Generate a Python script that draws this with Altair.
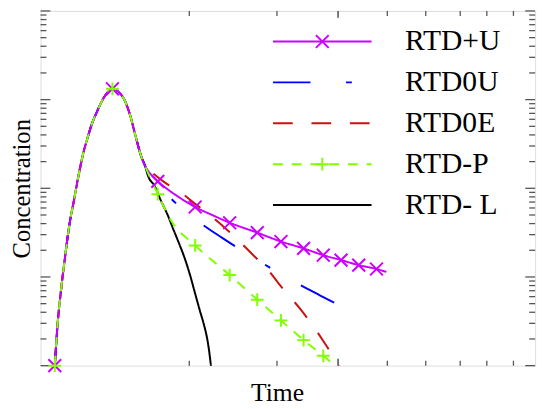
import altair as alt
import pandas as pd

# ---- series definitions ----
series_names = ["RTD+U", "RTD0U", "RTD0E", "RTD-P", "RTD- L"]
series_colors = ["#cc00ff", "#0000ff", "#cc1111", "#80ff00", "#000000"]
series_dash = [[1, 0], [38, 36, 6, 36], [20, 19], [10, 9], [1, 0]]
draw_order = ["RTD- L", "RTD0E", "RTD0U", "RTD+U", "RTD-P"]

# shared rising part and peak (all curves coincide here)
t_common = [0.289, 0.339, 0.418, 0.498, 0.578, 0.677, 0.777, 0.876, 0.956, 1.036,
            1.135, 1.235, 1.335, 1.454, 1.574, 1.713, 1.813, 1.912, 2.032, 2.112]
c_common = [1.0e-4, 2.64e-4, 7.36e-4, 1.71e-3, 3.69e-3, 7.36e-3, 1.47e-2, 2.64e-2, 3.78e-2, 5.28e-2,
            7.17e-2, 9.50e-2, 0.1166, 0.1325, 0.1227, 0.0950, 0.0664, 0.0408, 0.0233, 0.0180]

# tails after the curves separate
t_plus_u = [2.171, 2.271, 2.371, 2.570, 2.769, 3.127, 3.466, 3.825, 4.382, 4.861,
            5.319, 5.717, 6.076, 6.434, 6.793, 6.992]
c_plus_u = [0.01585, 0.01359, 0.01197, 0.00975, 0.00815, 0.00615, 0.00501, 0.00409, 0.00316, 0.00251,
            0.00210, 0.00176, 0.00155, 0.00136, 0.00123, 0.00114]

t_0u = [2.171, 2.371, 2.629, 2.968, 3.307, 3.665, 4.004, 4.323, 4.622, 5.020,
        5.359, 5.697, 6.056, 6.494]
c_0u = [0.01545, 0.01107, 0.00774, 0.00527, 0.00378, 0.00278, 0.00210, 0.00163, 0.00129, 0.00095,
        0.000755, 0.000600, 0.000476, 0.000369]

t_0e = [2.171, 2.510, 2.829, 3.108, 3.367, 3.725, 4.024, 4.303, 4.602, 4.821,
        5.259, 5.498, 5.717, 5.956, 6.076]
c_0e = [0.01668, 0.01166, 0.00903, 0.00681, 0.00527, 0.00359, 0.00251, 0.00176, 0.00120, 0.000836,
        0.000430, 0.000286, 0.000190, 0.000117, 0.000090]

t_p = [2.171, 2.371, 2.629, 3.127, 3.825, 4.382, 4.861, 5.319, 5.717, 5.996]
c_p = [0.01506, 0.00858, 0.00441, 0.00227, 0.00105, 0.000555, 0.000324, 0.000194, 0.000129, 0.000095]

t_l = [2.171, 2.311, 2.430, 2.570, 2.689, 2.809, 2.908, 3.028, 3.127, 3.227,
       3.307, 3.367, 3.406, 3.446, 3.466]
c_l = [0.01395, 0.01052, 0.00736, 0.00501, 0.00341, 0.00233, 0.00167, 0.00103, 0.000647, 0.000408,
       0.000286, 0.000205, 0.000151, 0.000100, 0.0000815]

# markers
mk_t = [0.289, 1.454, 2.371, 3.127, 3.825, 4.382, 4.861, 5.319, 5.717, 6.076, 6.434, 6.793]
mk_plus_u = [1.0e-4, 0.1325, 0.01197, 0.00615, 0.00409, 0.00316, 0.00251, 0.00210, 0.00176,
             0.00155, 0.00136, 0.00123]
mk_p = [1.0e-4, 0.1325, 0.00858, 0.00227, 0.00105, 0.000555, 0.000324, 0.000194, 0.000129]

# marker keys (one per legend row, only two rows carry a marker)
marker_keys = ["mk_x", "mk_none1", "mk_none2", "mk_plus", "mk_none3"]
marker_paths = ["M-1,-1L1,1M-1,1L1,-1", "M0,0", "M0,0", "M-1,0L1,0M0,-1L0,1", "M0,0"]
marker_colors = ["#cc00ff", "transparent", "transparent", "#80ff00", "transparent"]

# axis tick positions (no labels in the original)
ytick_major = [1e-4, 1e-3, 1e-2, 1e-1, 1.0]
ytick_decades = [1e-4, 1e-3, 1e-2, 1e-1]
ytick_mult = [2, 3, 4, 5, 6, 7, 8, 9]
xtick_minor = [3.008, 4.781, 7.012, 7.789, 8.486, 9.024, 9.562]
xtick_major = [6.016]

# ---- tables ----
tails = {
    "RTD+U": (t_plus_u, c_plus_u),
    "RTD0U": (t_0u, c_0u),
    "RTD0E": (t_0e, c_0e),
    "RTD-P": (t_p, c_p),
    "RTD- L": (t_l, c_l),
}
rows = []
for s in draw_order:
    tt, cc = tails[s]
    for a, b in zip(t_common + tt, c_common + cc):
        rows.append({"t": a, "c": b, "series": s})
lines_df = pd.DataFrame(rows)

mk_rows = [{"t": a, "c": b, "mk": "mk_x"} for a, b in zip(mk_t, mk_plus_u)]
mk_rows += [{"t": a, "c": b, "mk": "mk_plus"} for a, b in zip(mk_t, mk_p)]
mk_df = pd.DataFrame(mk_rows)

ymaj_df = pd.DataFrame({"c": ytick_major})
ymin_df = pd.DataFrame({"c": [m * d for d in ytick_decades for m in ytick_mult]})
xmin_df = pd.DataFrame({"t": xtick_minor})
xmaj_df = pd.DataFrame({"t": xtick_major})

W, H = 502, 360
FONT = "Liberation Serif"
AX = "#555555"
LFS = 30

x_axis = alt.Axis(title="Time", labels=False, ticks=False, domain=False, grid=False,
                  titleFont=FONT, titleFontSize=26, titleFontWeight="normal", titleColor="black",
                  titleX=240, titleY=35, titleAlign="center", titleBaseline="alphabetic")
y_axis = alt.Axis(title="Concentration", labels=False, ticks=False, domain=False, grid=False,
                  titleFont=FONT, titleFontSize=25, titleFontWeight="normal", titleColor="black",
                  titleAngle=270, titleX=-11, titleY=180, titleAlign="center",
                  titleBaseline="alphabetic")

x_enc = alt.X("t:Q", scale=alt.Scale(domain=[0, 10], nice=False, zero=False), axis=x_axis)
y_enc = alt.Y("c:Q", scale=alt.Scale(type="log", domain=[1e-4, 1], nice=False), axis=y_axis)

LX, LY = 271, 16
ENTRY = LFS
line_legend = alt.Legend(orient="none", legendX=LX, legendY=LY, title=None, padding=0,
                         symbolType="M-5,0L5,0", symbolSize=400, symbolStrokeWidth=2,
                         labelFont=FONT, labelFontSize=LFS, labelColor="black",
                         labelOffset=69, rowPadding=11.5, labelLimit=300)
mk_legend = alt.Legend(orient="none", legendX=LX, legendY=LY, title=None, padding=0,
                       symbolSize=169, symbolStrokeWidth=2, labelExpr="''",
                       labelFont=FONT, labelFontSize=LFS, rowPadding=11.5)

lines = alt.Chart(lines_df).mark_line(clip=True, strokeWidth=2, interpolate="monotone").encode(
    x=x_enc, y=y_enc,
    color=alt.Color("series:N", scale=alt.Scale(domain=series_names, range=series_colors),
                    legend=line_legend),
    strokeDash=alt.StrokeDash("series:N", scale=alt.Scale(domain=series_names, range=series_dash),
                              legend=line_legend),
)

markers = alt.Chart(mk_df).mark_point(filled=False, strokeWidth=2, size=169, opacity=1).encode(
    x=x_enc, y=y_enc,
    shape=alt.Shape("mk:N", scale=alt.Scale(domain=marker_keys, range=marker_paths),
                    legend=mk_legend),
    stroke=alt.Stroke("mk:N", scale=alt.Scale(domain=marker_keys, range=marker_colors),
                      legend=mk_legend),
)

tick_mark = dict(color=AX, strokeWidth=1.3)
ymaj_l = alt.Chart(ymaj_df).mark_rule(**tick_mark).encode(y=y_enc, x=alt.value(0), x2=alt.value(10))
ymaj_r = alt.Chart(ymaj_df).mark_rule(**tick_mark).encode(y=y_enc, x=alt.value(W - 10), x2=alt.value(W))
ymin_l = alt.Chart(ymin_df).mark_rule(**tick_mark).encode(y=y_enc, x=alt.value(0), x2=alt.value(6))
ymin_r = alt.Chart(ymin_df).mark_rule(**tick_mark).encode(y=y_enc, x=alt.value(W - 6), x2=alt.value(W))
xmin_b = alt.Chart(xmin_df).mark_rule(**tick_mark).encode(x=x_enc, y=alt.value(H - 5), y2=alt.value(H))
xmin_t = alt.Chart(xmin_df).mark_rule(**tick_mark).encode(x=x_enc, y=alt.value(0), y2=alt.value(5))
xmaj_b = alt.Chart(xmaj_df).mark_rule(color=AX, strokeWidth=1.6).encode(x=x_enc, y=alt.value(H - 7), y2=alt.value(H))
xmaj_t = alt.Chart(xmaj_df).mark_rule(color=AX, strokeWidth=1.6).encode(x=x_enc, y=alt.value(0), y2=alt.value(7))

chart = alt.layer(
    ymaj_l, ymaj_r, ymin_l, ymin_r, xmin_b, xmin_t, xmaj_b, xmaj_t, lines, markers
).properties(
    width=W, height=H,
    padding={"left": 33, "top": 0, "right": 7, "bottom": 41},
    autosize=alt.AutoSizeParams(type="none"),
).configure_view(
    stroke=AX, strokeWidth=1.5
).configure_legend(
    labelFont=FONT, labelFontSize=LFS, labelColor="black"
).configure(background="white")

chart.save("out.html", embed_options={"renderer": "svg", "actions": False})
